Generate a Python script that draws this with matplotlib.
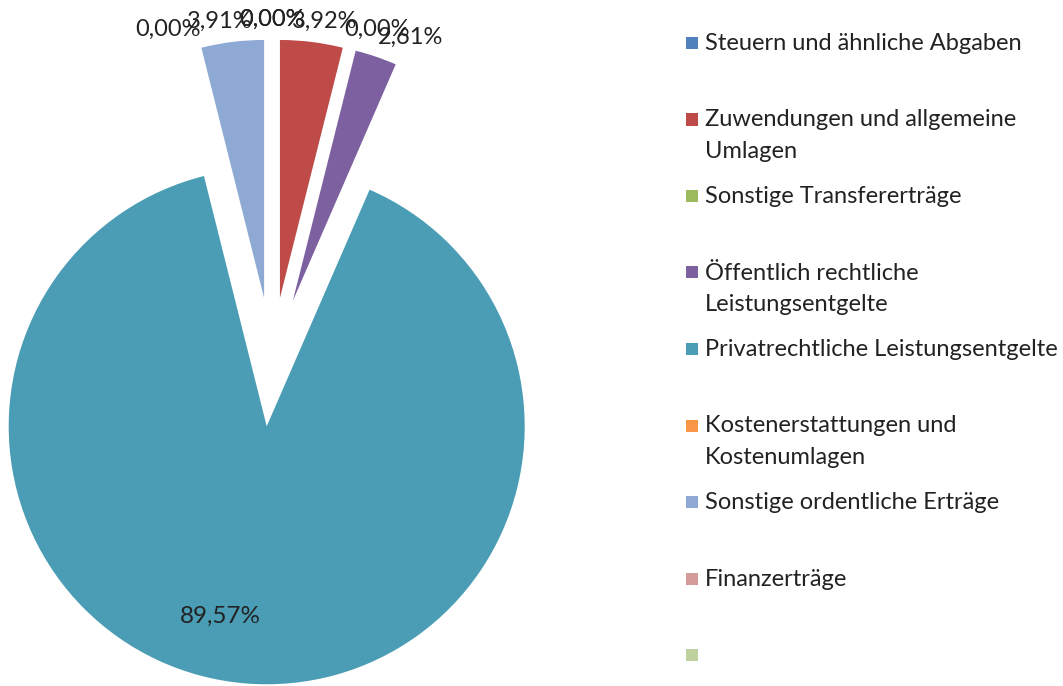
import numpy as np
import matplotlib
matplotlib.use("Agg")
import matplotlib.pyplot as plt
from matplotlib.patches import Rectangle

# data
categories = [
    "Steuern und ähnliche Abgaben",
    "Zuwendungen und allgemeine\nUmlagen",
    "Sonstige Transfererträge",
    "Öffentlich rechtliche\nLeistungsentgelte",
    "Privatrechtliche Leistungsentgelte",
    "Kostenerstattungen und\nKostenumlagen",
    "Sonstige ordentliche Erträge",
    "Finanzerträge",
    "",
]
shares = [0.00, 3.92, 0.00, 2.61, 89.57, 0.00, 3.91, 0.00, 0.00]
value_labels = ["0,00%", "3,92%", "0,00%", "2,61%", "89,57%", "0,00%", "3,91%", "0,00%", ""]
colors = ["#4F81BD", "#BE4B48", "#9BBB59", "#7D60A0", "#4A9DB5",
          "#F79646", "#8EA9D3", "#D59B99", "#BFD19E"]

plt.rcParams['font.family'] = ['Lato', 'DejaVu Sans']

fig = plt.figure(figsize=(10.63, 6.86), dpi=100)
ax = fig.add_axes([0, 0, 1, 1])

W, H = 1063, 686
cx, cy, R = 272, 362, 258

explode = [0.25] * len(shares)
wedges, _ = ax.pie(shares, colors=colors, startangle=90, counterclock=False,
                   explode=explode, radius=1.0,
                   wedgeprops=dict(linewidth=0))

# place the pie like the original (pie() resets limits, so set them afterwards)
ax.set_xlim(-cx / R, (W - cx) / R)
ax.set_ylim(-(H - cy) / R, cy / R)
ax.set_aspect('auto')
ax.axis('off')

# percentage labels
for w, lab, v in zip(wedges, value_labels, shares):
    if not lab:
        continue
    mid = np.deg2rad((w.theta1 + w.theta2) / 2)
    if v > 50:
        ex, ey = w.center
        r = 0.74
        ax.text(ex + r * np.cos(mid) - 0.12, ey + r * np.sin(mid), lab,
                ha='center', va='center', fontsize=17.5, color='#222222')
    else:
        r = 1.33
        # spread the crowded outside labels a little sideways, like Excel does
        x = r * np.cos(mid) * 1.25
        ax.text(x, r * np.sin(mid), lab,
                ha='center', va='center', fontsize=17, color='#222222')

# legend drawn entry by entry, evenly spaced like the original
x_sq, x_txt = 686, 705
y0, dy = 43, 76.5
for i, (name, c) in enumerate(zip(categories, colors)):
    y = y0 + i * dy
    fig.patches.append(Rectangle((x_sq / W, 1 - (y + 6) / H), 12 / W, 12 / H,
                                 transform=fig.transFigure, facecolor=c, edgecolor='none'))
    if name:
        fig.text(x_txt / W, 1 - (y - 10) / H, name, ha='left', va='top',
                 fontsize=17, color='#222222', linespacing=1.6)

fig.savefig("out.png", dpi=100)
